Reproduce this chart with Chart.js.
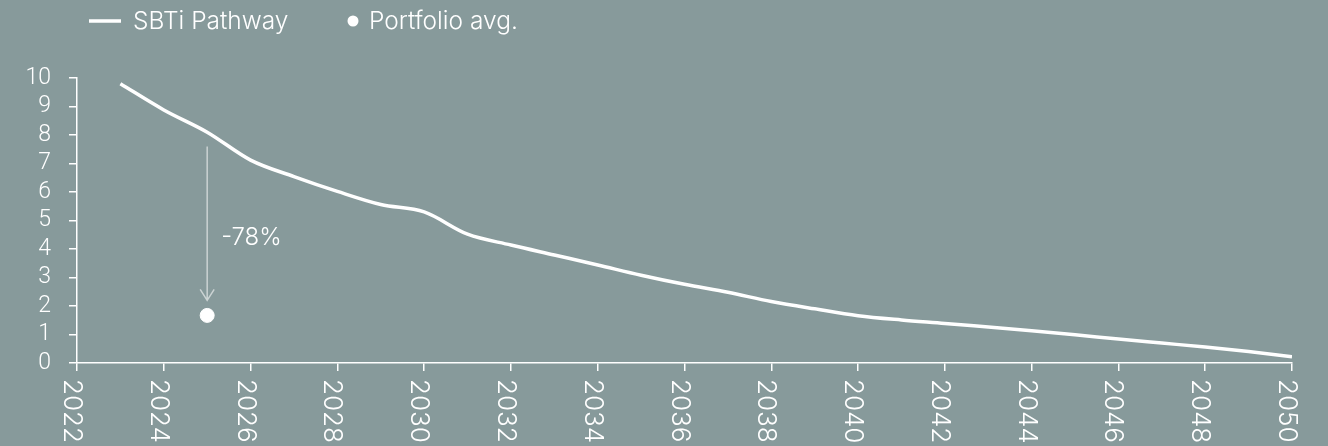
<!DOCTYPE html>
<html>
<head>
<meta charset="utf-8">
<script src="https://cdn.jsdelivr.net/npm/chart.js@4/dist/chart.umd.min.js"></script>
<style>
  html, body { margin: 0; padding: 0; background: #879a9b; }
  #wrap { width: 1328px; height: 446px; position: relative; }
</style>
</head>
<body>
<div id="wrap"><canvas id="c" width="1328" height="446"></canvas></div>
<script>
// Emission intensity pathway (SBTi) by year
const years = [2023, 2024, 2025, 2026, 2027, 2028, 2029, 2030, 2031, 2032, 2033, 2034, 2035, 2036,
               2037, 2038, 2039, 2040, 2041, 2042, 2043, 2044, 2045, 2046, 2047, 2048, 2049, 2050];
const pathway = [9.8, 8.88, 8.1, 7.12, 6.54, 6.02, 5.56, 5.3, 4.52, 4.14, 3.79, 3.44, 3.08, 2.76,
                 2.48, 2.16, 1.9, 1.66, 1.51, 1.39, 1.26, 1.13, 0.99, 0.84, 0.7, 0.56, 0.4, 0.22];

// Current portfolio average
const portfolioYears = [2025];
const portfolioValues = [1.67];

// Axis ticks
const xTickValues = [2022, 2024, 2026, 2028, 2030, 2032, 2034, 2036, 2038, 2040, 2042, 2044, 2046, 2048, 2050];
const yTickValues = [0, 1, 2, 3, 4, 5, 6, 7, 8, 9, 10];

// Reduction call-out
const reductionText = '-78%';
const reductionYear = 2025;
const arrowFrom = 7.6;
const arrowTo = 2.2;

const BG = '#879a9b';
const FONT = 'Inter, "Open Sans", sans-serif';
const NUM_FONT = 'Roboto, Inter, sans-serif';

const styling = {
  id: 'styling',
  beforeDraw(chart) {
    const ctx = chart.ctx;
    ctx.save();
    ctx.fillStyle = BG;
    ctx.fillRect(0, 0, chart.width, chart.height);
    ctx.restore();
  },
  afterDatasetsDraw(chart) {
    const ctx = chart.ctx;
    const xs = chart.scales.x, ys = chart.scales.y;

    // arrow from the pathway down to the portfolio average
    const ax = xs.getPixelForValue(reductionYear);
    const y0 = ys.getPixelForValue(arrowFrom);
    const y1 = ys.getPixelForValue(arrowTo);
    ctx.save();
    ctx.strokeStyle = 'rgba(225,230,230,0.75)';
    ctx.lineWidth = 1.5;
    ctx.beginPath();
    ctx.moveTo(ax, y0);
    ctx.lineTo(ax, y1);
    ctx.moveTo(ax - 7, y1 - 11);
    ctx.lineTo(ax, y1);
    ctx.lineTo(ax + 7, y1 - 11);
    ctx.stroke();

    ctx.fillStyle = '#ffffff';
    ctx.font = '300 24px ' + FONT;
    ctx.textAlign = 'left';
    ctx.textBaseline = 'alphabetic';
    ctx.fillText(reductionText, ax + 14, ys.getPixelForValue((arrowFrom + arrowTo) / 2) + 22);
    ctx.restore();
  },
  afterDraw(chart) {
    const ctx = chart.ctx;
    const xs = chart.scales.x;
    ctx.save();
    // x tick labels, reading top to bottom
    ctx.fillStyle = '#ffffff';
    ctx.font = '300 26px ' + FONT;
    ctx.textAlign = 'left';
    ctx.textBaseline = 'alphabetic';
    const top = xs.top + 16;
    xTickValues.forEach(v => {
      const px = xs.getPixelForValue(v);
      ctx.save();
      ctx.translate(px - 13, top);
      ctx.rotate(Math.PI / 2);
      ctx.fillText(String(v), 0, 0);
      ctx.restore();
    });

    // legend
    const ds = chart.data.datasets;
    ctx.font = '300 24.5px ' + FONT;
    ctx.textBaseline = 'middle';
    ctx.strokeStyle = ds[0].borderColor;
    ctx.lineWidth = 3.5;
    ctx.beginPath();
    ctx.moveTo(89, 21);
    ctx.lineTo(121, 21);
    ctx.stroke();
    ctx.fillText(ds[0].label, 133, 22);
    ctx.fillStyle = ds[1].backgroundColor;
    ctx.beginPath();
    ctx.arc(353, 21, 5.5, 0, Math.PI * 2);
    ctx.fill();
    ctx.fillStyle = '#ffffff';
    ctx.fillText(ds[1].label, 369, 22);
    ctx.restore();
  }
};

const axisCommon = {
  grid: { drawOnChartArea: false, drawTicks: true, tickLength: 8, color: '#ffffff', lineWidth: 1.5 },
  border: { display: true, color: '#ffffff', width: 1.5 }
};

new Chart(document.getElementById('c'), {
  data: {
    datasets: [
      {
        type: 'line',
        label: 'SBTi Pathway',
        data: years.map((y, i) => ({ x: y, y: pathway[i] })),
        borderColor: '#ffffff',
        borderWidth: 3.5,
        pointRadius: 0,
        cubicInterpolationMode: 'monotone',
        borderCapStyle: 'butt'
      },
      {
        type: 'scatter',
        label: 'Portfolio avg.',
        data: portfolioYears.map((y, i) => ({ x: y, y: portfolioValues[i] })),
        backgroundColor: '#ffffff',
        borderColor: '#ffffff',
        pointRadius: 7
      }
    ]
  },
  options: {
    responsive: false,
    devicePixelRatio: 1,
    animation: false,
    layout: { padding: { top: 78, right: 36, bottom: 0, left: 0 } },
    plugins: { legend: { display: false }, tooltip: { enabled: false } },
    scales: {
      x: {
        type: 'linear',
        min: 2022,
        max: 2050,
        ...axisCommon,
        ticks: { display: false },
        afterBuildTicks: s => { s.ticks = xTickValues.map(v => ({ value: v })); },
        afterFit: s => { s.height = 83; }
      },
      y: {
        type: 'linear',
        min: 0,
        max: 10,
        ...axisCommon,
        ticks: { color: '#ffffff', padding: 18, autoSkip: false, font: { family: NUM_FONT, size: 23, weight: 300 } },
        afterBuildTicks: s => { s.ticks = yTickValues.map(v => ({ value: v })); },
        afterFit: s => { s.width = 77; }
      }
    }
  },
  plugins: [styling]
});
</script>
</body>
</html>
